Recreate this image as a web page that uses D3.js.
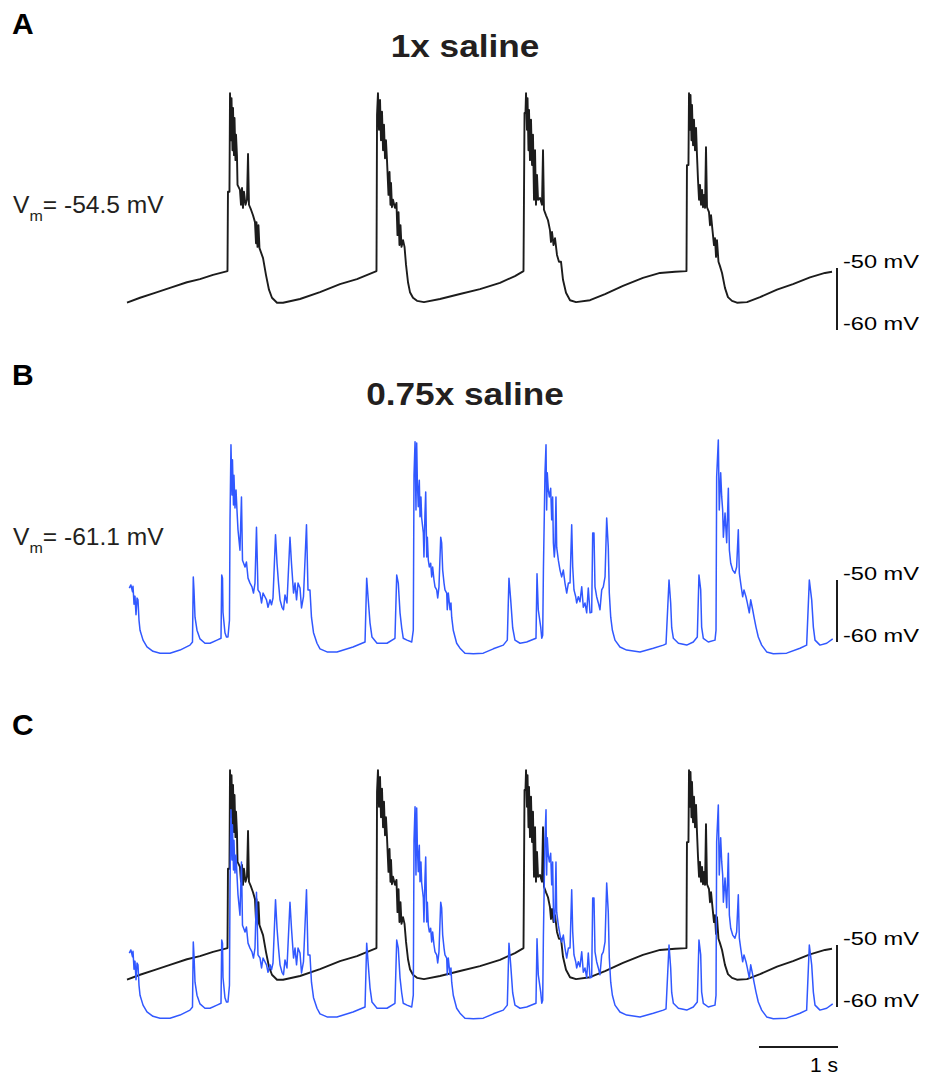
<!DOCTYPE html>
<html>
<head>
<meta charset="utf-8">
<script src="https://cdn.jsdelivr.net/npm/d3@7"></script>
<style>
  body { margin: 0; background: #fff; }
  svg { display: block; font-family: Arial, "Liberation Sans", sans-serif; }
</style>
</head>
<body>
<div id="chart"></div>
<script>
// time in ms, membrane potential in mV
const trace1x = [
  [0,-55.6],[165,-54.8],[354,-54.0],[544,-53.2],[759,-52.3],[924,-51.8],[1089,-51.1],[1272,-50.5],
  [1278,-37.7],[1297,-37.7],[1304,-21.8],[1316,-29.4],[1323,-22.6],[1335,-31.0],[1342,-24.2],[1354,-31.8],
  [1361,-25.8],[1373,-32.6],[1380,-28.5],[1392,-31.9],[1399,-36.6],[1430,-37.4],[1443,-39.8],[1456,-37.1],
  [1468,-40.3],[1481,-37.7],[1500,-39.8],[1519,-39.0],[1532,-31.6],[1544,-39.8],[1570,-40.6],[1595,-41.5],
  [1620,-42.6],[1633,-46.0],[1639,-42.6],[1652,-46.6],[1664,-43.1],[1677,-46.8],[1722,-48.4],[1759,-51.1],
  [1797,-53.5],[1835,-54.8],[1899,-55.6],[1975,-55.6],[2190,-55.0],[2443,-53.9],[2696,-52.6],[2911,-51.8],
  [3158,-50.5],
  [3165,-25.3],[3177,-21.8],[3190,-27.7],[3203,-22.9],[3215,-29.4],[3228,-24.8],[3241,-31.0],[3253,-26.9],
  [3266,-32.3],[3278,-29.4],[3291,-32.6],[3310,-38.2],[3323,-34.5],[3335,-39.8],[3342,-36.3],[3354,-40.2],
  [3367,-39.0],[3392,-40.3],[3411,-39.5],[3424,-44.7],[3437,-41.0],[3449,-46.3],[3462,-43.1],[3475,-46.6],
  [3494,-45.5],[3513,-46.6],[3532,-49.5],[3557,-52.3],[3582,-53.9],[3620,-54.8],[3671,-55.3],[3759,-55.5],
  [3962,-55.0],[4215,-54.2],[4468,-53.4],[4721,-52.4],[4911,-51.3],[5019,-50.5],
  [5032,-25.0],[5044,-25.0],[5051,-21.8],[5063,-27.7],[5070,-22.6],[5082,-31.0],[5089,-24.5],[5101,-32.6],
  [5114,-26.1],[5127,-33.4],[5139,-28.5],[5152,-39.0],[5165,-31.0],[5177,-39.8],[5190,-35.0],[5203,-39.0],
  [5228,-38.7],[5253,-39.8],[5266,-31.0],[5278,-40.6],[5304,-41.5],[5329,-42.3],[5354,-43.9],[5367,-45.8],
  [5380,-44.2],[5399,-46.3],[5418,-45.2],[5443,-47.9],[5468,-49.0],[5494,-49.0],[5519,-51.9],[5557,-54.0],
  [5608,-55.2],[5684,-55.5],[5861,-55.2],[6051,-54.2],[6278,-52.9],[6531,-51.6],[6747,-50.8],[6937,-50.6],
  [7082,-50.5],
  [7088,-33.4],[7107,-33.4],[7114,-21.8],[7127,-27.7],[7133,-22.1],[7145,-29.4],[7152,-23.7],[7165,-30.2],
  [7177,-26.1],[7190,-31.0],[7203,-27.4],[7215,-31.8],[7228,-35.8],[7241,-39.0],[7253,-36.6],[7266,-39.8],
  [7279,-37.4],[7291,-40.2],[7304,-38.2],[7317,-40.3],[7329,-30.5],[7342,-40.2],[7367,-41.0],[7380,-43.1],
  [7393,-41.5],[7411,-43.9],[7430,-46.3],[7443,-45.2],[7456,-48.2],[7468,-45.5],[7487,-49.0],[7506,-49.7],
  [7532,-50.8],[7569,-53.2],[7607,-54.7],[7658,-55.3],[7721,-55.6],[7848,-55.5],[8013,-54.7],[8228,-53.5],
  [8430,-52.6],[8645,-51.5],[8835,-50.8],[8924,-50.6]
];

const trace075x = [
  [29,-51.3],[49,-50.8],[70,-51.9],[76,-51.0],[89,-53.9],[101,-52.6],[114,-55.6],[127,-52.9],[139,-53.2],
  [152,-56.5],[165,-58.1],[203,-59.7],[253,-60.8],[329,-61.5],[418,-61.8],[544,-61.8],[671,-61.3],[797,-60.5],
  [829,-60.0],[839,-49.5],[848,-51.6],[861,-56.0],[886,-58.1],[924,-59.5],[987,-60.2],[1051,-60.2],[1139,-59.7],
  [1190,-59.4],[1199,-49.2],[1209,-49.7],[1215,-55.2],[1240,-58.5],[1259,-59.2],[1278,-59.2],[1297,-56.5],
  [1304,-40.3],[1316,-28.2],
  [1329,-36.3],[1335,-30.6],[1348,-37.9],[1354,-33.1],[1367,-38.4],[1380,-35.5],[1392,-38.7],[1405,-41.9],
  [1430,-45.2],[1449,-36.6],[1462,-46.8],[1494,-47.9],[1512,-47.1],[1532,-49.7],[1557,-50.5],[1582,-51.1],
  [1601,-52.1],[1620,-50.5],[1639,-41.5],[1658,-51.6],[1684,-52.1],[1703,-53.7],[1722,-52.1],[1766,-53.2],
  [1785,-54.4],[1810,-53.2],[1829,-54.0],[1848,-52.9],[1880,-42.7],[1899,-47.3],[1918,-50.5],[1937,-53.2],
  [1962,-54.4],[1981,-54.8],[2000,-52.4],[2025,-53.7],[2063,-43.1],[2082,-47.3],[2108,-52.1],[2127,-50.5],
  [2146,-53.2],[2165,-50.5],[2190,-51.3],[2209,-54.5],[2234,-52.7],[2272,-41.1],[2291,-51.6],[2316,-51.6],
  [2335,-56.0],[2361,-58.5],[2405,-60.2],[2443,-61.1],[2532,-61.6],[2658,-61.6],[2861,-60.8],[3013,-60.0],
  [3034,-49.7],[3051,-52.7],[3076,-56.9],[3101,-59.2],[3165,-60.2],[3291,-60.2],[3392,-59.4],
  [3414,-49.2],[3434,-50.5],[3456,-55.3],[3477,-57.7],[3497,-59.4],[3544,-59.7],[3604,-60.0],[3624,-58.1],
  [3633,-33.1],[3646,-27.7],
  [3658,-38.7],[3667,-27.9],[3675,-33.9],[3687,-38.2],[3700,-33.9],[3709,-39.8],[3721,-36.6],[3730,-40.0],
  [3751,-42.4],[3759,-46.3],[3772,-39.2],[3781,-35.8],[3794,-46.3],[3802,-43.1],[3814,-46.8],[3827,-47.9],
  [3844,-47.3],[3857,-49.5],[3869,-47.9],[3886,-50.0],[3899,-51.1],[3920,-51.6],[3933,-52.9],[3949,-51.1],
  [3971,-43.1],[3983,-44.0],[3996,-48.4],[4013,-50.5],[4025,-51.6],[4047,-52.1],[4054,-54.8],[4067,-52.1],
  [4089,-54.8],[4101,-53.7],[4110,-56.0],[4130,-58.1],[4152,-59.2],[4173,-60.2],[4215,-61.0],[4278,-61.8],
  [4384,-61.9],[4510,-61.8],[4637,-61.1],[4763,-60.5],[4814,-59.7],
  [4835,-49.7],[4857,-53.2],[4882,-57.7],[4911,-59.7],[4975,-60.2],[5059,-60.0],[5177,-59.4],
  [5190,-49.0],[5206,-54.8],[5237,-57.6],[5250,-59.4],[5262,-58.9],[5271,-48.4],[5291,-32.7],[5304,-28.2],
  [5312,-38.7],[5320,-32.7],[5333,-35.5],[5346,-36.6],[5363,-35.2],[5376,-40.3],[5388,-36.6],[5397,-44.0],
  [5409,-46.3],[5418,-44.7],[5430,-36.6],[5439,-44.7],[5460,-46.8],[5481,-48.4],[5502,-49.5],[5523,-48.4],
  [5544,-50.5],[5566,-52.1],[5587,-50.5],[5608,-50.5],[5629,-41.1],[5642,-47.9],[5658,-51.6],[5680,-52.7],
  [5692,-53.7],[5713,-52.7],[5734,-53.5],[5756,-51.1],[5776,-54.4],[5797,-53.7],[5819,-55.3],[5839,-51.3],
  [5861,-55.3],[5882,-55.2],[5895,-42.4],[5911,-42.4],[5924,-51.1],[5945,-52.7],[5966,-53.7],[5987,-54.8],
  [6009,-51.6],[6029,-51.1],[6051,-49.5],[6072,-40.0],[6092,-44.7],[6105,-52.1],[6123,-56.0],[6144,-58.1],
  [6177,-59.7],[6240,-60.8],[6325,-61.3],[6494,-61.6],[6662,-61.0],[6789,-60.5],[6823,-60.3],
  [6861,-50.0],[6882,-53.7],[6895,-57.7],[6916,-59.4],[6980,-60.2],[7085,-60.5],[7168,-60.0],[7219,-59.2],
  [7240,-49.2],[7262,-51.6],[7274,-57.6],[7295,-59.4],[7358,-60.0],[7443,-59.7],[7456,-58.1],[7464,-33.4],
  [7485,-27.4],
  [7497,-38.7],[7515,-32.7],[7528,-36.6],[7540,-38.7],[7549,-43.1],[7570,-39.2],[7591,-44.0],[7612,-35.2],
  [7625,-45.2],[7642,-47.3],[7667,-48.4],[7696,-48.9],[7717,-47.9],[7738,-41.9],[7751,-48.9],[7768,-50.5],
  [7793,-52.7],[7810,-51.6],[7835,-52.7],[7852,-53.7],[7877,-55.3],[7895,-53.2],[7920,-54.8],[7937,-56.0],
  [7962,-57.6],[7991,-59.2],[8034,-60.5],[8097,-61.6],[8181,-61.9],[8350,-61.8],[8519,-61.0],[8603,-60.5],
  [8637,-50.0],[8667,-53.2],[8688,-57.6],[8709,-59.7],[8772,-60.5],[8857,-60.2],[8933,-59.5]
];

const panelLetters = ["A", "B", "C"];
const panelTitles = ["1x saline", "0.75x saline", ""];
const restingVm = ["-54.5 mV", "-61.1 mV", ""];
const scaleMv = [-50, -60];
const timeBarMs = [8000, 9000];

const width = 926, height = 1076;
const black = "#1c1c1c", blue = "#3158ff", textCol = "#231f20";

const svg = d3.select("#chart").append("svg")
  .attr("width", width)
  .attr("height", height);

const x = d3.scaleLinear().domain([0, 8924]).range([127, 832]);

// one y scale per panel, same mV/px
const panelTop = [268, 580, 945];
const yScales = panelTop.map(t => d3.scaleLinear().domain([-60, -50]).range([t + 62, t]));

const line = y => d3.line()
  .x(d => x(d[0]))
  .y(d => y(d[1]));

const traces = [[{data: trace1x, color: black, w: 1.9}],
                [{data: trace075x, color: blue, w: 1.5}],
                [{data: trace1x, color: black, w: 1.9}, {data: trace075x, color: blue, w: 1.5}]];

const letterY = [34, 385, 735];
const titleY = [57, 405, 0];
const vmY = [213, 545, 0];

panelLetters.forEach((p, i) => {
  const y = yScales[i];
  const g = svg.append("g");

  g.append("text")
    .attr("x", 12)
    .attr("y", letterY[i])
    .attr("font-size", 30)
    .attr("font-weight", "bold")
    .attr("fill", "#000")
    .text(p);

  if (panelTitles[i]) {
    g.append("text")
      .attr("transform", `translate(465,${titleY[i]}) scale(1.1,1)`)
      .attr("text-anchor", "middle")
      .attr("font-size", 32)
      .attr("font-weight", "bold")
      .attr("fill", textCol)
      .text(panelTitles[i]);
  }

  if (restingVm[i]) {
    const t = g.append("text")
      .attr("transform", `translate(13,${vmY[i]}) scale(1.07,1)`)
      .attr("font-size", 23)
      .attr("fill", textCol);
    t.append("tspan").text("V");
    t.append("tspan").attr("font-size", 15).attr("dy", 8).text("m");
    t.append("tspan").attr("dy", -8).text("= " + restingVm[i]);
  }

  traces[i].forEach(tr => {
    g.append("path")
      .datum(tr.data)
      .attr("fill", "none")
      .attr("stroke", tr.color)
      .attr("stroke-width", tr.w)
      .attr("stroke-linejoin", "round")
      .attr("d", line(y));
  });

  // 10 mV scale bar
  g.append("line")
    .attr("x1", x(timeBarMs[1]) - 1)
    .attr("x2", x(timeBarMs[1]) - 1)
    .attr("y1", y(scaleMv[0]))
    .attr("y2", y(scaleMv[1]))
    .attr("stroke", black)
    .attr("stroke-width", 2);

  scaleMv.forEach(v => {
    g.append("text")
      .attr("x", x(timeBarMs[1]) + 5)
      .attr("y", y(v))
      .attr("font-size", 19)
      .attr("textLength", 76)
      .attr("lengthAdjust", "spacingAndGlyphs")
      .attr("fill", "#000")
      .text(v + " mV");
  });
});

// 1 s scale bar
svg.append("line")
  .attr("x1", x(timeBarMs[0]))
  .attr("x2", x(timeBarMs[1]))
  .attr("y1", 1047)
  .attr("y2", 1047)
  .attr("stroke", black)
  .attr("stroke-width", 2);

svg.append("text")
  .attr("x", x(timeBarMs[1]))
  .attr("y", 1072)
  .attr("text-anchor", "end")
  .attr("font-size", 21)
  .attr("fill", "#000")
  .text((timeBarMs[1] - timeBarMs[0]) / 1000 + " s");
</script>
</body>
</html>
